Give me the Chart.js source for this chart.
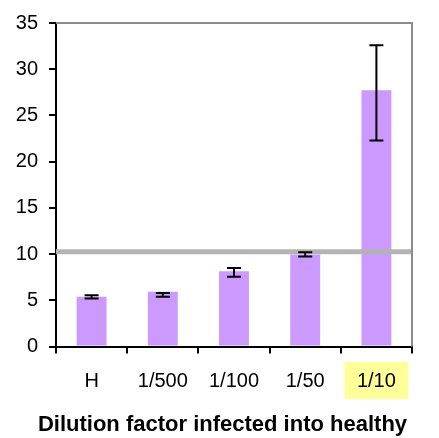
<!DOCTYPE html>
<html>
<head>
<meta charset="utf-8">
<script src="https://cdn.jsdelivr.net/npm/chart.js@4"></script>
<style>
  html, body { margin: 0; padding: 0; background: #fff; }
  #wrap { width: 439px; height: 438px; }
</style>
</head>
<body>
<div id="wrap"><canvas id="chart"></canvas></div>
<script>
const labels = ["H", "1/500", "1/100", "1/50", "1/10"];
const values = [5.39, 5.93, 8.16, 9.97, 27.73];
const errLow = [5.2, 5.4, 7.55, 9.75, 22.3];
const errHigh = [5.55, 5.8, 8.51, 10.2, 32.6];
const cutoff = 10.26;
const highlighted = 4; // index of the highlighted label

const font = "'Liberation Sans', Arial, sans-serif";

// draws error bars, the gray cutoff line and the top/right frame
const extras = {
    id: "extras",
    beforeDraw(chart) {
        const { ctx, scales: { x } } = chart;
        const px = x.getPixelForValue(highlighted);
        ctx.save();
        ctx.fillStyle = "#ffff99";
        ctx.fillRect(px - 32, 362, 64, 37);
        ctx.restore();
    },
    afterDatasetsDraw(chart) {
        const { ctx, chartArea: a, scales: { y } } = chart;
        ctx.save();
        // cutoff line
        ctx.strokeStyle = "#b3b3b3";
        ctx.lineWidth = 5;
        const cy = y.getPixelForValue(cutoff);
        ctx.beginPath();
        ctx.moveTo(a.left, cy);
        ctx.lineTo(a.right, cy);
        ctx.stroke();

        // error bars
        const meta = chart.getDatasetMeta(0);
        ctx.strokeStyle = "#000";
        ctx.lineWidth = 2;
        meta.data.forEach((bar, i) => {
            const lo = y.getPixelForValue(errLow[i]);
            const hi = y.getPixelForValue(errHigh[i]);
            ctx.beginPath();
            ctx.moveTo(bar.x, lo);
            ctx.lineTo(bar.x, hi);
            ctx.moveTo(bar.x - 7, lo);
            ctx.lineTo(bar.x + 7, lo);
            ctx.moveTo(bar.x - 7, hi);
            ctx.lineTo(bar.x + 7, hi);
            ctx.stroke();
        });

        // top and right frame
        ctx.strokeStyle = "#8c8c8c";
        ctx.lineWidth = 2;
        ctx.beginPath();
        ctx.moveTo(a.left, a.top);
        ctx.lineTo(a.right, a.top);
        ctx.lineTo(a.right, a.bottom);
        ctx.stroke();
        ctx.restore();
    }
};

new Chart(document.getElementById("chart"), {
    type: "bar",
    data: {
        labels: labels,
        datasets: [{
            data: values,
            backgroundColor: "#cc99ff",
            barPercentage: 0.42,
            categoryPercentage: 1
        }]
    },
    options: {
        responsive: true,
        maintainAspectRatio: false,
        animation: false,
        layout: { padding: { top: 17, right: 0, bottom: 0, left: 6 } },
        plugins: {
            legend: { display: false },
            tooltip: { enabled: false },
            title: {
                display: true,
                position: "bottom",
                text: "Dilution factor infected into healthy",
                color: "#000",
                font: { family: font, size: 22, weight: "bold" },
                padding: { top: 2, bottom: 0 }
            }
        },
        scales: {
            x: {
                offset: true,
                grid: { offset: true, drawOnChartArea: false, color: "#000", tickLength: 7, lineWidth: 2 },
                border: { color: "#000", width: 2 },
                ticks: { color: "#000", font: { family: font, size: 20 }, padding: 16, maxRotation: 0 }
            },
            y: {
                min: 0,
                max: 35,
                afterFit(scale) { scale.width = 50; },
                grid: { drawOnChartArea: false, color: "#000", tickLength: 7, lineWidth: 2 },
                border: { color: "#000", width: 2 },
                ticks: { stepSize: 5, color: "#000", font: { family: font, size: 20 }, padding: 11 }
            },
            // empty spacer on the right so the title centres like the original
            spacer: {
                position: "right",
                grid: { display: false },
                border: { display: false },
                ticks: { display: false },
                afterFit(scale) { scale.width = 27; }
            }
        }
    },
    plugins: [extras]
});
</script>
</body>
</html>
